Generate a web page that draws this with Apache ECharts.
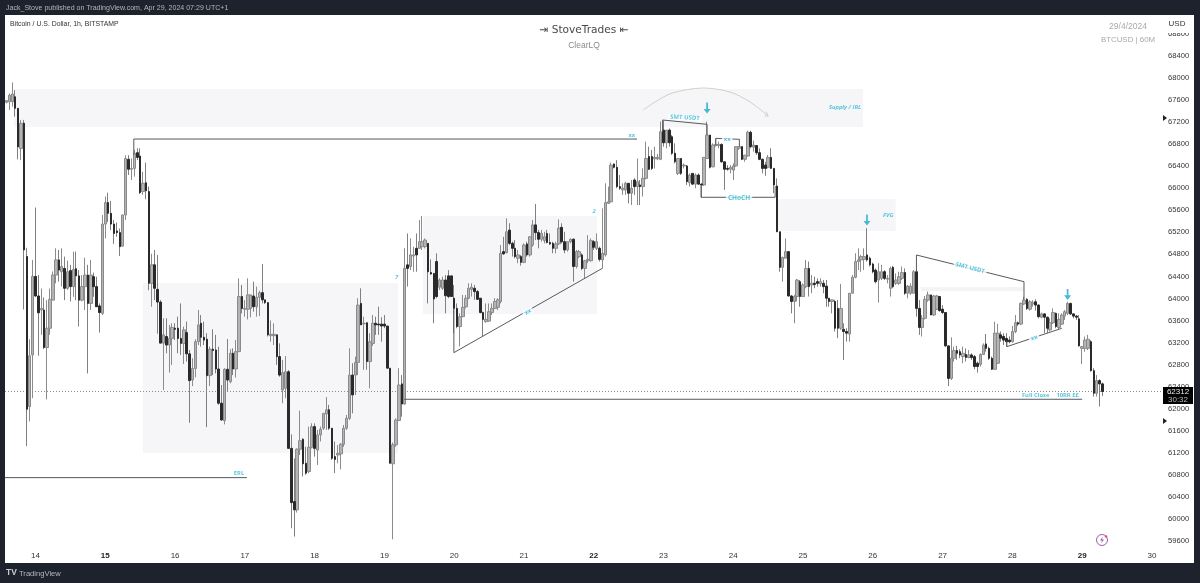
<!DOCTYPE html>
<html><head><meta charset="utf-8">
<style>html,body{margin:0;padding:0;background:#fff}#c{width:1200px;height:583px}</style>
<script src="https://cdn.jsdelivr.net/npm/echarts@6/dist/echarts.min.js"></script>
</head><body><div id="c"></div>
<script>
const opens=[67560,67570,67570,67660,67450,66720,67180,64760,62040,62975,
64400,64045,63790,63790,63110,63460,63970,64425,64700,64485,
64545,64185,64505,64215,64540,64410,63970,64215,64425,63910,
64395,64215,63865,63730,65350,65740,65545,65350,65225,65195,
64950,65515,66525,66345,66360,66645,66585,65940,66100,65940,
64275,64610,64165,63935,63190,63310,63155,63275,63460,63460,
63275,63185,63380,62995,62520,62730,63215,63550,63295,63260,
62600,63080,63065,62720,62100,61785,62715,62490,63005,62720,
63035,64035,63805,63805,63820,64045,63850,64020,64105,63975,
63925,63325,63325,63340,62945,62340,62370,62670,61280,60315,
60165,61265,61445,61010,60860,61300,61675,61250,61525,61645,
61905,61980,61645,61130,61160,61180,61355,61645,61825,62610,
62610,62840,63910,63540,63560,62855,63185,63550,63535,63535,
63535,63500,62735,61000,61345,61785,62450,62085,64610,64580,
64770,64910,64910,64940,64940,65000,64470,64455,64670,64205,
64185,64335,64410,64410,64005,63820,63490,63670,63850,64005,
64165,64185,64125,64005,63745,63580,63590,63745,63820,63840,
63945,64850,64830,65240,65000,64910,64730,64760,64655,64990,
64790,64970,65335,65195,65075,65050,65180,65015,65000,64910,
64990,65290,65030,64880,65030,65075,64580,64760,64790,64545,
64685,64685,65030,64910,64910,64700,64790,65725,65755,66440,
66380,66030,65970,65970,66090,65910,66150,66030,66060,66030,
66180,66575,66575,66535,66535,66525,67055,66825,67055,66935,
66635,66270,66540,66405,66405,66100,66270,66075,66240,66075,
66060,66540,66965,66390,66775,66775,66795,66480,66360,66345,
66330,66405,66725,66755,66525,66585,67015,66745,66775,66645,
66525,66420,66380,66560,66360,66040,65210,64565,64730,64850,
64045,63945,64035,64305,64035,64215,64545,64245,64275,64305,
64265,64275,64225,64005,63945,63945,63820,63460,63440,63400,
63355,64095,64385,64670,64700,64710,64790,64730,64625,64515,
64335,64365,64485,64350,64185,64565,64275,64275,64365,64470,
64095,64095,64095,64485,63820,63475,63640,63970,64065,63700,
63805,64035,63805,63745,63140,62550,62915,63055,63035,62945,
62985,62930,62975,62945,62825,62805,62985,63175,63095,62915,
62715,62825,63340,63310,63275,63245,63215,63400,63560,63535,
63900,63985,63805,63900,63940,63880,63660,63720,63660,63430,
63560,63730,63475,63535,63680,63730,63910,63720,63680,63630,
63095,63095,63095,63215,62690,62280,62510,62450];
const closes=[67590,67690,67710,67450,66750,67180,64880,61990,62960,64400,
64045,63740,63820,63110,63460,63985,64425,64700,64515,64580,
64185,64485,64215,64530,64410,63970,64215,64425,63910,64425,
64215,63850,63745,65350,65740,65545,65350,65180,65195,64940,
65515,66540,66345,66360,66635,66560,65920,66090,65955,64275,
64610,64185,63935,63190,63340,63155,63275,63475,63440,63275,
63185,63430,62995,62510,62730,63215,63520,63295,63245,62600,
63080,63055,62720,62100,61795,62715,62520,63005,62720,63035,
64035,63820,63820,64065,64065,63850,64020,64105,63975,63925,
63340,63350,63350,62945,62610,62655,62670,61280,60295,60165,
61265,61420,61000,60830,61300,61675,61280,61525,61625,61915,
61980,61645,61100,61080,61190,61355,61645,61825,62610,62250,
62840,63880,63520,63550,62855,63215,63550,63520,63520,63500,
63500,62735,61010,61345,61795,62430,62085,64545,64545,64790,
64790,64790,65030,65030,65060,64485,64445,63990,64035,64335,
64335,64050,64035,64035,63820,63490,63670,63840,64005,64185,
64205,64125,63985,63745,63620,63620,63760,63820,63945,63975,
64820,64810,65210,65000,64910,64760,64790,64655,64970,64790,
65120,65335,65195,65075,65180,65120,65015,64990,64910,64990,
65275,65030,64880,65030,65075,64580,64850,64850,64545,64685,
64710,65050,64930,65030,64710,64820,65740,65755,66420,66380,
66030,66000,66000,66090,65910,66000,66030,66120,66030,66180,
66540,66345,66360,66560,66560,67025,66825,67055,66825,66635,
66480,66540,66270,66420,66120,66240,66075,66240,66075,66060,
66560,66965,66380,66785,66795,66795,66480,66345,66345,66380,
66405,66755,66755,66525,66600,67015,66755,66785,66645,66525,
66360,66360,66560,66360,66060,65210,64565,64745,64850,64045,
63945,64035,64335,64035,64245,64545,64215,64275,64255,64275,
64305,64215,64005,63945,63975,63460,63460,63820,63400,63370,
64095,64385,64670,64700,64760,64760,64700,64610,64485,64305,
64485,64485,64365,64365,64545,64215,64335,64395,64470,64095,
64225,64225,64485,63820,63475,63640,63985,64065,63700,64045,
64045,63780,63745,63140,62550,62915,63055,63005,62975,63005,
62930,62975,62930,62765,62765,62985,63155,63095,62915,62715,
63370,63370,63280,63245,63215,63215,63400,63560,63535,63910,
63970,63820,63940,63925,63880,63670,63720,63660,63460,63560,
63745,63490,63620,63700,63760,63910,63720,63680,63660,63140,
63125,63245,63260,62690,62280,62510,62450,62312];
const highs=[67600,67720,67920,67780,67450,67240,67240,64920,63260,64700,
65650,64425,64180,64020,63970,64180,64490,64910,64880,64910,
64760,64685,64610,64850,64850,64515,64425,64740,64610,64700,
64470,64395,63910,65515,65850,65920,65770,65425,65380,65270,
65520,66600,66600,66540,66695,66725,66725,66300,66465,66030,
64810,64880,64790,63970,63640,63640,63520,63550,63550,63670,
63910,63490,63580,63065,62915,63260,63790,63700,63580,63370,
63125,63440,63340,63125,62430,62735,63265,63080,63095,63245,
64365,64245,63970,64365,64065,64305,64215,64140,64625,63975,
63925,63600,63550,63340,63185,62885,62955,62700,61535,61100,
61280,61965,61465,61310,61675,61735,61735,61615,61675,61915,
62210,62070,61645,61405,61340,61375,61705,61885,63095,62825,
62945,64005,64185,63670,63560,63370,63700,63670,63850,63660,
63700,63500,62735,61385,61825,62735,62610,64910,65180,65090,
64940,65180,65425,65495,65090,65000,64710,64455,64820,64365,
64395,64425,64515,64410,64245,63910,63730,64065,64065,64275,
64275,64245,64155,64005,63760,63910,63910,63910,64005,64005,
64970,65120,65455,65365,65030,65060,64880,64790,65000,65030,
65120,65425,65715,65245,65245,65210,65245,65180,65030,65030,
65435,65365,65210,65030,65090,65090,64880,64880,64820,64700,
65150,65090,65060,65180,64940,65635,66090,66030,66465,66450,
66510,66240,66090,66120,66090,66150,66180,66540,66150,66360,
66845,66755,66695,66755,66620,67210,67225,67055,67085,66965,
66815,66540,66540,66450,66420,66270,66270,66270,66270,66090,
66560,67210,66965,66815,66905,66845,66815,66480,66420,66420,
66450,66755,66765,66755,66600,67045,67045,66865,66785,66725,
66540,66480,66605,66725,66360,66180,65210,64760,65090,64860,
64065,64065,64355,64335,64275,64700,64670,64425,64395,64365,
64365,64335,64335,64005,63975,63975,63975,64265,63550,63460,
64095,64425,64820,64910,64790,64910,65275,64760,64650,64545,
64640,64610,64515,64425,64580,64590,64455,64485,64580,64545,
64245,64275,64515,64545,63970,63700,64045,64125,64065,64065,
64065,64045,63880,63745,63140,63295,63125,63140,63080,63125,
63095,63065,63005,62975,62855,63005,63185,63355,63125,62945,
63580,63540,63400,63370,63370,63310,63500,63700,63580,63925,
64030,64005,63970,63970,63985,63895,63745,63730,63670,63640,
63820,63745,63730,63730,63790,63940,63925,63730,63700,63700,
63140,63310,63340,63245,62735,62610,62535,62475];
const lows=[67540,67420,67480,67300,66525,66510,63800,61320,61770,62190,
64030,62960,63340,63080,62170,63340,63985,64275,64305,64215,
63970,64155,63945,64030,63970,63490,63945,63790,62640,63790,
64030,63850,63380,63700,65090,65390,65240,64990,65120,64770,
64940,65425,66240,66150,66210,66510,65895,65880,65800,64150,
63850,63970,63360,63190,62340,63005,62655,62795,63245,63005,
62975,62810,62855,61745,62410,62570,63155,63125,63155,61665,
62410,62610,62640,62070,61785,61715,62310,62460,62610,62565,
63030,63730,63670,63620,63660,63760,63670,63680,63910,63900,
63310,63215,63155,62795,62580,62100,62190,61280,59830,59680,
60115,61160,60770,60800,60830,61280,61130,60980,61405,61615,
61615,61615,61070,60830,61010,60900,61310,61615,61795,61915,
62250,62610,63520,62705,62705,62370,63140,63340,63340,63215,
63460,62735,61010,59630,61310,61785,61855,62070,64215,64515,
64485,64485,64910,64880,64910,63910,64425,63550,64005,64155,
64155,63730,64005,64035,63370,63460,63130,63660,63820,63985,
64035,63975,63975,63730,63320,63560,63580,63700,63805,63790,
63910,64790,64820,64970,64760,64730,64640,64595,64640,64760,
64760,64940,65060,64910,65030,65000,65000,64970,64820,64820,
64970,65000,64820,64850,65000,64305,64545,64730,64515,64365,
64640,64670,64880,64880,64670,64545,64760,65715,65740,66360,
66000,65970,65880,65880,65725,65695,65880,65695,65695,65850,
66160,66330,66330,66360,66510,66510,66755,66725,66755,66605,
66450,66240,66240,66360,66060,66030,66060,66000,66060,65835,
66040,66540,66360,66380,66755,66725,66465,65970,66320,66270,
66150,66390,66695,66510,66480,66575,66725,66665,66605,66510,
66270,66225,66360,66360,65910,65210,64485,64305,64730,64035,
63730,63550,63945,63850,64035,64185,64035,64095,64185,64215,
64215,64095,63850,63850,63730,63400,63280,63430,62885,63215,
63215,64095,64365,64515,64485,64515,64670,64580,64455,64275,
63925,64335,64335,64275,64035,64185,64245,64245,64335,64065,
64005,64065,64095,63670,63340,63310,63620,63940,63700,63685,
63790,63760,63720,63125,62410,62520,62855,62885,62915,62825,
62855,62915,62885,62715,62655,62765,62975,63035,62885,62705,
62705,62810,63215,63155,63125,63185,63200,63370,63500,63520,
63880,63790,63780,63850,63780,63640,63640,63370,63370,63400,
63535,63460,63430,63520,63610,63700,63700,63640,63610,63125,
62810,63035,63065,62675,62220,62220,62040,62230];

// first bar is 13 Apr 14:00; one category per hour
const dayLabels=['14','15','16','17','18','19','20','21','22','23','24','25','26','27','28','29','30'];
const boldDays=['15','22','29'];
const firstMidnightBar=10, barsPerDay=24, barSlots=399;

// zones: [hour start, hour end, price high, price low]
const zones=[[2.6,294.6,67800,67111],[47,134.7,64281,61197],[143.3,203.1,65497,63719],[265.1,305.9,65805,65225]];
const faintZone=[314.5,350,64209,64136];
// drawn trend lines, as [hour, price] pairs
const drawnLines=[
 [[43.8,66603],[43.8,66893],[216.9,66893]],
 [[-0.5,60749],[82.7,60749]],
 [[136.8,62171],[370,62171]],
 [[153.9,63828],[153.9,63017],[205,64548]],
 [[225.7,67026],[225.7,67238],[241,67160],[241,66966]],
 [[244,66785],[244,66906],[252.1,66888],[252.1,66754]],
 [[238.9,66059],[238.9,65836],[264.4,65836],[264.4,66040]],
 [[313,64486],[313,64789],[350,64305],[350,63973]],
 [[344.1,63217],[344.1,63126],[363,63459]]
];
const arcPoints=[[219,67420],[223.1,67565],[229,67728],[239.6,67819],[248.9,67746],[255.8,67565],[262,67311]];
const arcHead=[[261.3,67390],[262,67311],[260.8,67311]];
const arrowMarks=[[241,67456],[296,65424],[365,64073]];
const priceNow=62312, countdown='30:32';
const noteTexts=['Supply / IRL','xx','SMT USDT','xx','CHoCH','FVG','2','7','xx','ERL','SMT USDT','xx','Full Close','10RR ££'];
const noteHours=[288.4,215.1,233.4,247.9,252,303.3,202.1,134.2,179.4,80,331.5,353.5,354,365];
const notePrices=[67461,66966,67280,66884,65829,65515,65575,64378,63755,60835,64553,63284,62250,62250];
const noteAngles=[0,0,-3,0,0,0,0,0,30,0,-14,18,0,0];
const yMin=59200,yMax=69200,yStep=400;

const cats=[];for(let i=0;i<barSlots;i++){const k=i-firstMidnightBar;cats.push(k>=0&&k%barsPerDay===0?dayLabels[k/barsPerDay]||'':'');}
const wick=opens.map((o,i)=>[o,closes[i],lows[i],highs[i]]);
const bodyOf=(keep)=>opens.map((o,i)=>keep(o,closes[i])?[o,closes[i],Math.min(o,closes[i]),Math.max(o,closes[i])]:['-','-','-','-']);
const bodyUp=bodyOf((o,c)=>c>=o), bodyDown=bodyOf((o,c)=>c<o);
const cyan='#2cb9d6',ink='#555a60',ff='"Liberation Sans",Arial,sans-serif';
const hx={xAxisIndex:1,yAxisIndex:0,animation:false,silent:true};
const area=(a)=>[{coord:[a[0],a[2]]},{coord:[a[1],a[3]]}];
const cs={type:'candlestick',xAxisIndex:0,yAxisIndex:0,animation:false,silent:true};
const series=[
 {type:'line',...hx,data:[],z:1,markArea:{silent:true,itemStyle:{color:'#f6f6f9',opacity:1},data:zones.map(area)}},
 {type:'line',...hx,data:[],z:1,markArea:{silent:true,itemStyle:{color:'#f4f4f4',opacity:1},data:[area(faintZone)]}},
 {type:'line',...hx,z:2,symbol:'none',data:[[-0.5,priceNow],[398.5,priceNow]],lineStyle:{color:'#8d8d8d',width:1,type:[1,2]}},
 {...cs,data:wick,barWidth:1,z:3,itemStyle:{color:'#8c8c8c',color0:'#808080',borderColor:'#8c8c8c',borderColor0:'#808080',borderWidth:1}},
 {...cs,data:bodyUp,barWidth:3,z:4,itemStyle:{color:'#b4b4b4',color0:'#b4b4b4',borderColor:'#8a8a8a',borderColor0:'#8a8a8a',borderWidth:1}},
 {...cs,data:bodyDown,barWidth:2,z:4,itemStyle:{color:'#2a2a2a',color0:'#2a2a2a',borderColor:'#2a2a2a',borderColor0:'#2a2a2a',borderWidth:1}},
 ...drawnLines.map(d=>({type:'line',...hx,z:5,symbol:'none',data:d,lineStyle:{color:ink,width:1}})),
 {type:'line',...hx,z:5,symbol:'none',smooth:0.3,data:arcPoints,lineStyle:{color:'#cfcfcf',width:1}},
 {type:'line',...hx,z:5,symbol:'none',data:arcHead,lineStyle:{color:'#cfcfcf',width:1}},
 {type:'scatter',...hx,z:6,symbol:'path://M4 0h2v7h3L5 12 1 7h3z',symbolSize:[7,11],itemStyle:{color:'#1ba9c9'},data:arrowMarks},
 {type:'scatter',...hx,z:7,symbolSize:0,data:noteTexts.map((t,i)=>({value:[noteHours[i],notePrices[i]],
   label:{show:true,position:'inside',formatter:t,rotate:noteAngles[i],color:cyan,fontFamily:'"Open Sans",sans-serif',fontWeight:700,
     fontStyle:(t==='Supply / IRL'||t==='FVG'||t==='2'||t==='7')?'italic':'normal',fontSize:t==='SMT USDT'?6:(t==='CHoCH'?6.5:5.8),
     backgroundColor:(t==='CHoCH'||t==='SMT USDT'||(t==='xx'&&i!==1))?'#fff':'transparent',padding:[0,2]}}))}
];
const chart=echarts.init(document.getElementById('c'),null,{renderer:'canvas'});
const frame='#1e222d';
const T=(x,y,text,size,color,align,extra)=>({type:'text',x,y,z:200,style:Object.assign({text,fontSize:size,fill:color,align:align||'left',verticalAlign:'middle',fontFamily:ff},extra||{})});
const R=(x,y,w,h,fill,extra)=>({type:'rect',z:190,shape:{x,y,width:w,height:h},style:Object.assign({fill},extra||{})});
chart.setOption({
 animation:false,backgroundColor:'#fff',
 grid:{left:5,right:35,top:11.9,bottom:20,containLabel:false},
 xAxis:[
  {type:'category',data:cats,boundaryGap:true,axisLine:{show:false},axisTick:{show:false},splitLine:{show:false},
   axisLabel:{inside:true,interval:(i,v)=>v!=='',margin:3,hideOverlap:false,fontSize:8,color:'#333',fontFamily:ff,
    formatter:v=>boldDays.includes(v)?'{b|'+v+'}':v,rich:{b:{fontWeight:700,fontSize:8,color:'#222',fontFamily:ff}}}},
  {type:'value',min:-0.5,max:398.5,show:false}
 ],
 yAxis:{type:'value',position:'right',min:yMin,max:yMax,interval:yStep,scale:true,axisLine:{show:false},axisTick:{show:false},splitLine:{show:false},
  axisLabel:{margin:3,fontSize:7.6,color:'#333',fontFamily:ff,formatter:v=>(v===yMin||v===yMax)?'':String(v)}},
 series,
 graphic:[
  R(1166,15,28,18,'#fff'),
  T(1177,24,'USD',8,'#333','center'),
  T(10,24,'Bitcoin / U.S. Dollar, 1h, BITSTAMP',6.9,'#333'),
  T(584,30,'⇥ StoveTrades ⇤',10.6,'#4a4a4a','center',{fontFamily:'"DejaVu Sans",sans-serif'}),
  T(584,46,'ClearLQ',8.5,'#8a8a8a','center'),
  T(1128,27,'29/4/2024',8.5,'#a8a8a8','center'),
  T(1128,40,'BTCUSD | 60M',7.9,'#a8a8a8','center'),
  {type:'polygon',z:195,shape:{points:[[1163,115],[1167,118],[1163,121]]},style:{fill:'#222'}},
  {type:'polygon',z:195,shape:{points:[[1163,418],[1167,421],[1163,424]]},style:{fill:'#222'}},
  R(1163,387,30,17,'#000'),
  T(1178,391.5,String(priceNow),8,'#e8e8e8','center'),
  T(1178,399.5,countdown,8,'#b8b8b8','center'),
  {type:'circle',z:195,shape:{cx:1102,cy:540,r:5.5},style:{fill:'#fff',stroke:'#9c5fa8',lineWidth:1}},
  {type:'polygon',z:196,shape:{points:[[1103,536.5],[1100,540.5],[1102,540.5],[1101,543.5],[1104,539.5],[1102,539.5]]},style:{fill:'#9c5fa8'}},
  {type:'circle',z:197,shape:{cx:1106,cy:536.5,r:1.3},style:{fill:'#e0566a'}},
  R(0,0,1200,15,frame),
  R(0,15,5,548,frame),
  R(1194,15,6,548,frame),
  R(0,563,1200,20,frame),
  T(6,8.5,'Jack_Stove published on TradingView.com, Apr 29, 2024 07:29 UTC+1',7.05,'#b2b5be'),
  T(19,573.5,'TradingView',7.6,'#b2b5be'),
  {type:'text',x:6,y:573,z:200,style:{text:'TV',fontSize:8.5,fontWeight:700,fill:'#c8cbd2',fontFamily:ff,verticalAlign:'middle'}}
 ]
});
</script></body></html>
